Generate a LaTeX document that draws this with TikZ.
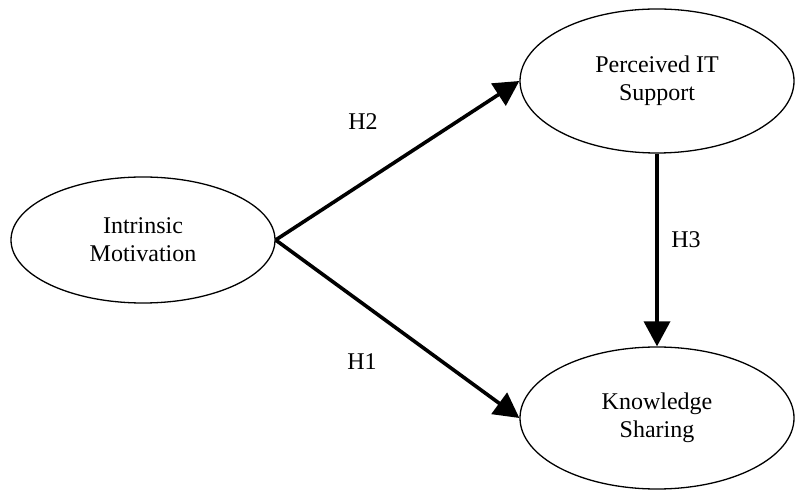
\documentclass[tikz,border=0pt]{standalone}
\usepackage{fontspec}
\setmainfont{Liberation Serif}
\usetikzlibrary{arrows.meta, shapes.geometric, positioning}

\begin{document}
\begin{tikzpicture}[x=0.5pt, y=-0.5pt]

    \tikzset
    {
        font={\fontsize{12pt}{14pt}\selectfont},
        construct/.style={ellipse, draw, line width=0.65pt, align=center, inner sep=0pt},
        hyparrow/.style={-{Triangle[length=12.5pt, width=13pt]}, line width=1.8pt}
    }

    \useasboundingbox (0,0) rectangle (795,490);

    \node[construct, minimum width=132pt, minimum height=63pt] (motivation) at (143,240) {Intrinsic\\Motivation};
    \node[construct, minimum width=137pt, minimum height=72pt] (itsupport) at (657,81) {Perceived IT\\Support};
    \node[construct, minimum width=137pt, minimum height=71pt] (sharing) at (657,418) {Knowledge\\Sharing};

    \draw[hyparrow] (motivation.east) -- (itsupport.west);
    \draw[hyparrow] (motivation.east) -- (sharing.west);
    \draw[hyparrow] (itsupport.south) -- (sharing.north);

    \node (hTwo) at (363,122) {H2};
    \node (hOne) at (362,362) {H1};
    \node (hThree) at (686,240) {H3};

\end{tikzpicture}
\end{document}
